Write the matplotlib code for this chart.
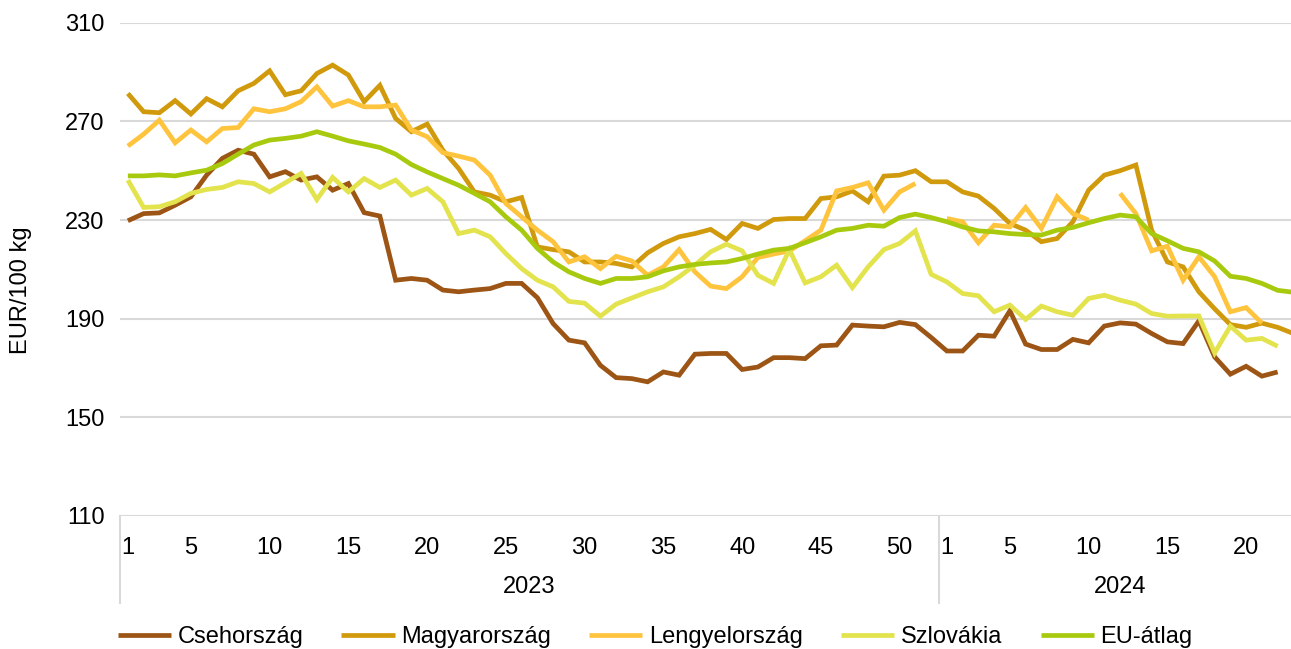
import numpy as np
import matplotlib
matplotlib.use("Agg")
import matplotlib.pyplot as plt
import matplotlib.transforms as mtransforms

plt.rcParams["font.family"] = ["Liberation Sans", "DejaVu Sans"]

# ---------------------------------
# Data (EUR/100 kg, weekly)
# ---------------------------------

years = ["2023", "2024"]
weeks_2023 = list(range(1, 53))
weeks_2024 = list(range(1, 24))
tick_weeks = [1, 5, 10, 15, 20, 25, 30, 35, 40, 45, 50]

nan = np.nan

cseh = [229.7, 232.6, 232.9, 236.0, 239.4, 248.2, 255.0, 258.3, 256.7, 247.5,
        249.6, 246.2, 247.5, 242.1, 244.8, 233.0, 231.6, 205.6, 206.3, 205.6,
        201.6, 200.9, 201.6, 202.2, 204.3, 204.3, 198.5, 188.0, 181.3, 180.2,
        171.1, 166.1, 165.7, 164.4, 168.4, 167.1, 175.6, 175.9, 175.9, 169.4,
        170.4, 174.2, 174.2, 173.8, 179.0, 179.3, 187.4, 187.0, 186.7, 188.5,
        187.6, 182.4,
        176.9, 176.9, 183.3, 182.9, 193.2, 179.7, 177.5, 177.5, 181.6, 180.2,
        187.0, 188.3, 187.8, 184.0, 180.6, 179.9, 189.1, 174.5, 167.5, 170.7,
        166.7, 168.4, nan]

magyar = [281.3, 273.9, 273.5, 278.4, 273.0, 279.2, 275.9, 282.4, 285.4, 290.5,
          280.8, 282.4, 289.4, 292.8, 288.8, 278.0, 284.6, 271.2, 265.8, 268.9,
          258.3, 250.9, 241.4, 240.1, 237.4, 239.1, 219.1, 218.0, 217.1, 213.0,
          213.0, 212.4, 211.0, 216.7, 220.5, 223.2, 224.5, 226.2, 222.1, 228.6,
          226.6, 230.2, 230.6, 230.6, 238.7, 239.4, 241.8, 237.4, 247.8, 248.2,
          250.0, 245.5,
          245.5, 241.4, 239.7, 234.7, 228.6, 225.9, 221.2, 222.5, 229.3, 242.1,
          248.2, 250.0, 252.3, 225.9, 213.0, 211.0, 200.9, 194.0, 187.6, 186.5,
          188.2, 186.5, 184.0]

lengyel = [260.0, 264.8, 270.5, 261.3, 266.5, 261.7, 267.1, 267.5, 275.1, 273.9,
           275.1, 278.0, 284.0, 276.2, 278.4, 275.9, 275.9, 276.6, 266.5, 263.8,
           257.3, 255.9, 254.3, 248.2, 236.7, 231.3, 225.9, 221.2, 213.0, 215.1,
           210.3, 215.3, 213.4, 207.6, 211.0, 218.0, 209.0, 203.2, 202.2, 207.0,
           214.8, 216.2, 217.5, 221.6, 225.9, 241.8, 243.2, 245.1, 234.0, 241.4,
           244.8, nan,
           230.6, 229.3, 220.8, 227.9, 227.2, 235.1, 226.6, 239.4, 232.6, 230.0,
           nan, 240.8, 232.6, 217.5, 219.4, 205.6, 215.1, 207.0, 192.8, 194.5,
           188.2, nan, nan]

szlovakia = [246.2, 235.1, 235.4, 237.4, 240.8, 242.4, 243.2, 245.5, 244.8, 241.4,
             245.1, 248.9, 238.3, 247.3, 241.4, 246.8, 243.2, 246.2, 240.1, 242.8,
             237.4, 224.5, 225.9, 223.2, 216.4, 210.3, 205.6, 202.9, 197.0, 196.3,
             191.0, 195.9, 198.4, 200.9, 202.9, 207.0, 211.7, 217.1, 220.2, 217.5,
             207.6, 204.3, 218.0, 204.5, 207.0, 211.7, 202.6, 211.0, 218.0, 220.5,
             225.6, 208.0,
             204.9, 200.2, 199.3, 192.8, 195.5, 189.7, 195.1, 192.8, 191.4, 198.2,
             199.5, 197.5, 195.9, 192.1, 191.0, 191.1, 191.1, 176.1, 187.0, 181.3,
             182.0, 178.8, nan]

eu = [247.9, 247.9, 248.3, 247.9, 249.1, 250.2, 252.9, 256.7, 260.4, 262.4,
      263.1, 264.0, 265.8, 264.0, 262.1, 260.8, 259.4, 256.7, 252.5, 249.5,
      246.8, 244.1, 240.8, 237.4, 231.3, 225.9, 218.5, 213.0, 209.0, 206.3,
      204.3, 206.3, 206.3, 207.0, 209.4, 211.0, 212.0, 212.6, 213.0, 214.4,
      216.2, 217.8, 218.5, 220.8, 223.2, 225.9, 226.6, 227.9, 227.5, 231.0,
      232.4, 231.0,
      229.3, 227.2, 225.6, 225.2, 224.5, 224.1, 223.9, 225.9, 227.0, 228.9,
      230.6, 232.0, 231.3, 224.5, 221.6, 218.5, 217.1, 213.4, 207.2, 206.3,
      204.3, 201.5, 200.7]

series = [
    ("Csehország", cseh, "#9C5515"),
    ("Magyarország", magyar, "#D09A0C"),
    ("Lengyelország", lengyel, "#FFC43D"),
    ("Szlovákia", szlovakia, "#E3E34D"),
    ("EU-átlag", eu, "#A8CA0E"),
]

# ---------------------------------
# Figure
# ---------------------------------

W, H = 1291, 649
fig = plt.figure(figsize=(W / 100, H / 100), dpi=100)

n_cat = len(weeks_2023) + len(weeks_2024)
cat_w = 15.75
left_px, top_px, bottom_px = 120, 22.7, 516
ax_w = n_cat * cat_w
ax_h = bottom_px - top_px
ax = fig.add_axes([left_px / W, 1 - bottom_px / H, ax_w / W, ax_h / H])

for name, vals, col in series:
    x = np.arange(len(vals))
    ax.plot(x, vals, color=col, lw=3.4, label=name,
            solid_joinstyle="miter", solid_capstyle="butt")

ax.set_xlim(-0.5, n_cat - 0.5)
ax.set_ylim(110, 310)
ax.set_yticks(range(110, 311, 40))
ax.grid(axis="y", color="#D9D9D9", lw=1.5)
ax.set_axisbelow(True)
for s in ax.spines.values():
    s.set_visible(False)

fs = 17
pos = [weeks_2023.index(w) for w in tick_weeks] + \
      [len(weeks_2023) + weeks_2024.index(w) for w in tick_weeks[:5]]
labs = [str(w) for w in tick_weeks] + [str(w) for w in tick_weeks[:5]]
ax.set_xticks(pos)
ax.set_xticklabels(labs)
ax.tick_params(axis="x", length=0, pad=15, labelsize=fs)
ax.tick_params(axis="y", length=0, pad=11, labelsize=fs)
ax.set_ylabel("EUR/100 kg", fontsize=fs)
ax.yaxis.set_label_coords(-(left_px - 32) / ax_w, (bottom_px - 290) / ax_h)

# year groups
trans = mtransforms.blended_transform_factory(ax.transData, ax.transAxes)
sep = [-0.5, len(weeks_2023) - 0.5]
for xs in sep:
    ax.plot([xs, xs], [0, -87 / ax_h], transform=trans, color="#D9D9D9",
            lw=1.5, clip_on=False)
centers = [(len(weeks_2023) - 1) / 2,
           len(weeks_2023) - 0.5 + len(weeks_2024) / 2]
for yr, cx in zip(years, centers):
    ax.text(cx, -71 / ax_h, yr, transform=trans, ha="center", va="center",
            fontsize=fs)

fig.legend(loc="center", bbox_to_anchor=(655 / W, 1 - 637 / H), ncol=5,
           frameon=False, fontsize=fs, handlelength=2.25, handletextpad=0.28,
           columnspacing=1.62)

fig.savefig("out.png", dpi=100)
